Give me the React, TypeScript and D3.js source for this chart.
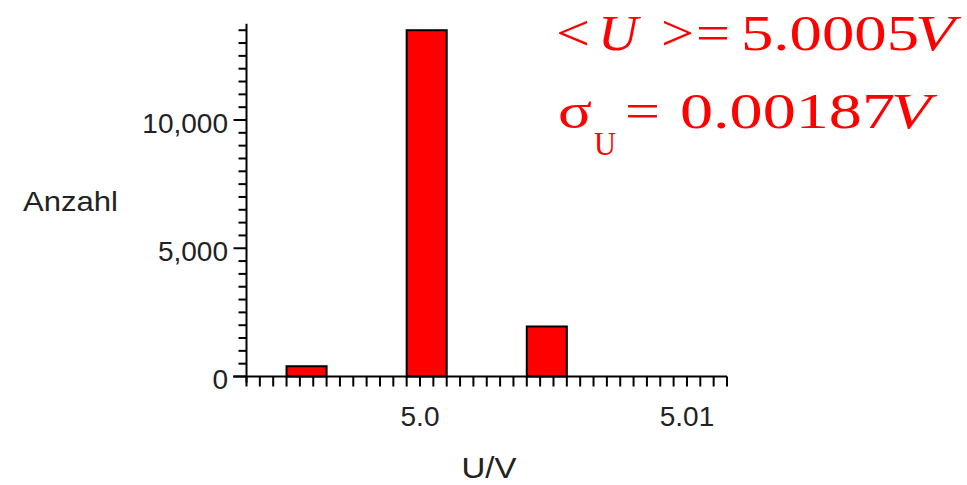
import React from "react";
import * as d3 from "d3";

// ---- data ----
const binStart = [4.995, 4.9995, 5.004];
const binEnd = [4.9965, 5.001, 5.0055];
const counts = [400, 13500, 1950];
const xTickLabels = ["5.0", "5.01"];
const xTickLabelValues = [5.0, 5.01];
const yTickLabels = ["0", "5,000", "10,000"];
const yTickLabelValues = [0, 5000, 10000];
const xLabel = "U/V";
const yLabel = "Anzahl";

const W = 967;
const H = 485;

export default function App() {
  const x = d3.scaleLinear().domain([4.9935, 5.0115]).range([246.5, 727]);
  const y = d3.scaleLinear().domain([0, 10000]).range([376.5, 120]);

  const xMinor = d3.range(0, 37).map((i) => 4.9935 + i * 0.0005);
  const yMinor = d3.range(0, 28).map((i) => i * 500);
  const majorY = new Set(yTickLabelValues);

  const sans = "'Liberation Sans', Arial, sans-serif";
  const serif = "'Liberation Serif', 'Times New Roman', serif";
  const red = "#ff0000";

  return (
    <svg
      width={W}
      height={H}
      style={{ position: "absolute", left: 0, top: 0, background: "#fff" }}
    >
      <rect width={W} height={H} fill="#fff" />
      {/* bars */}
      {counts.map((c, i) => (
        <rect
          key={i}
          x={x(binStart[i])}
          y={y(c)}
          width={x(binEnd[i]) - x(binStart[i])}
          height={y(0) - y(c)}
          fill={red}
          stroke="#000"
          strokeWidth={2}
        />
      ))}
      {/* x axis */}
      <line x1={x(4.993)} x2={x(5.0115)} y1={y(0)} y2={y(0)} stroke="#000" strokeWidth={2} />
      {xMinor.map((v, i) => (
        <line key={i} x1={x(v)} x2={x(v)} y1={y(0)} y2={y(0) + 10} stroke="#000" strokeWidth={2} />
      ))}
      {xTickLabelValues.map((v, i) => (
        <text key={i} x={x(v)} y={426} textAnchor="middle" fontFamily={sans} fontSize={28} fill="#222">
          {xTickLabels[i]}
        </text>
      ))}
      <text x={489} y={478} textAnchor="middle" fontFamily={sans} fontSize={29} fill="#222" textLength={55} lengthAdjust="spacingAndGlyphs">
        {xLabel}
      </text>
      {/* y axis */}
      <line x1={x(4.9935)} x2={x(4.9935)} y1={y(0) + 6} y2={y(13750)} stroke="#000" strokeWidth={2} />
      {yMinor.map((v, i) => (
        <line
          key={i}
          x1={x(4.9935) - (majorY.has(v) ? 13 : 8)}
          x2={x(4.9935)}
          y1={y(v)}
          y2={y(v)}
          stroke="#000"
          strokeWidth={2}
        />
      ))}
      {yTickLabelValues.map((v, i) => (
        <text key={i} x={228} y={y(v) + 12.5} textAnchor="end" fontFamily={sans} fontSize={28} fill="#222">
          {yTickLabels[i]}
        </text>
      ))}
      <text x={23} y={211} fontFamily={sans} fontSize={28} fill="#222" textLength={95} lengthAdjust="spacingAndGlyphs">
        {yLabel}
      </text>
      {/* annotations */}
      <g fontFamily={serif} fontSize={50} fill={red}>
        <text x={556} y={50} textLength={34} lengthAdjust="spacingAndGlyphs">&lt;</text>
        <text x={598} y={50} fontStyle="italic" textLength={40} lengthAdjust="spacingAndGlyphs">U</text>
        <text x={661} y={50} textLength={33} lengthAdjust="spacingAndGlyphs">&gt;</text>
        <text x={696} y={50} textLength={34} lengthAdjust="spacingAndGlyphs">=</text>
        <text x={741} y={50} textLength={178} lengthAdjust="spacingAndGlyphs">5.0005</text>
        <text x={915} y={50} fontStyle="italic" textLength={40} lengthAdjust="spacingAndGlyphs">V</text>

        <text x={558} y={128} textLength={34} lengthAdjust="spacingAndGlyphs">σ</text>
        <text x={594} y={155} fontSize={34} textLength={22} lengthAdjust="spacingAndGlyphs">U</text>
        <text x={625} y={128} textLength={35} lengthAdjust="spacingAndGlyphs">=</text>
        <text x={680} y={128} textLength={215} lengthAdjust="spacingAndGlyphs">0.00187</text>
        <text x={891} y={128} fontStyle="italic" textLength={40} lengthAdjust="spacingAndGlyphs">V</text>
      </g>
    </svg>
  );
}
